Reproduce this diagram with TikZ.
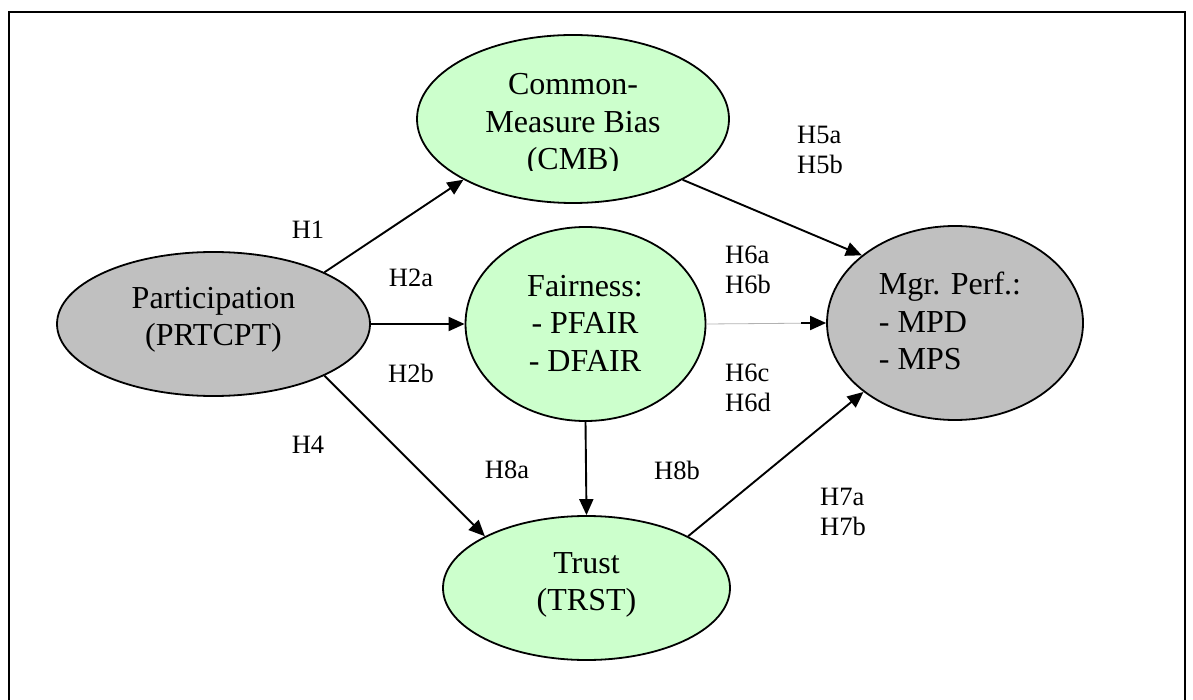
\documentclass[tikz,border=0pt]{standalone}
\usepackage{fontspec}
\setmainfont{Liberation Serif}
\usetikzlibrary{shapes.geometric,arrows.meta,calc}
\definecolor{factgreen}{HTML}{CCFFCC}
\definecolor{factgray}{HTML}{C0C0C0}
\begin{document}
\begin{tikzpicture}[x=1pt,y=-1pt,
  construct/.style={ellipse, draw=black, line width=1.8pt, inner sep=0pt},
  greenc/.style={construct, fill=factgreen},
  grayc/.style={construct, fill=factgray},
  ctext/.style={inner sep=0pt, align=center, font=\fontsize{32}{37.5}\selectfont},
  hyp/.style={inner sep=0pt, align=left, font=\fontsize{26.5}{30}\selectfont},
  link/.style={line width=1.9pt, -{Triangle[length=16pt,width=14pt]}},
]
\useasboundingbox (0,0) rectangle (1193,700);

% outer frame (its bottom edge lies below the page)
\draw[line width=2.2pt] (9,705) -- (9,12) -- (1185,12) -- (1185,705);

% constructs
\node[greenc, minimum width=312pt, minimum height=168pt] (cmb)   at (573,119)   {};
\node[grayc,  minimum width=313pt, minimum height=144pt] (prt)   at (213.5,324) {};
\node[greenc, minimum width=240pt, minimum height=194pt] (fair)  at (585.5,324) {};
\node[grayc,  minimum width=256pt, minimum height=194pt] (mgr)   at (955,323)   {};
\node[greenc, minimum width=287pt, minimum height=144pt] (trust) at (586.5,588) {};

% construct texts (the CMB text box cuts off its last line)
\begin{scope}
  \clip (410,30) rectangle (740,171);
  \node[ctext] (cmbtxt) at (573,125) {Common-\\Measure Bias\\(CMB)};
\end{scope}
\node[ctext] (prttxt)   at (213.5,320) {Participation\\(PRTCPT)};
\node[ctext] (fairtxt)  at (585,323)   {Fairness:\\- PFAIR\\- DFAIR};
\node[ctext, align=left] (mgrtxt) at (950,321) {Mgr. Perf.:\\- MPD\\- MPS};
\node[ctext] (trusttxt) at (586.5,585) {Trust\\(TRST)};

% hypothesised paths
\draw[link] (prt.25)    -- (cmb.209.6);
\draw[link] (prt.east)  -- (fair.west);
\draw[link] (prt.335)   -- (trust.153.7);
\draw[link] (cmb.331.4) -- (mgr.144.3);
\draw[line width=0.8pt, black!30] (fair.east) -- (mgr.west);
\draw[link] ($(mgr.west)+(-25,0)$) -- (mgr.west);
\draw[link] (fair.south) -- (trust.north);
\draw[link] (trust.27.5) -- (mgr.217.3);

% hypothesis labels
\node[hyp] (h1)  at (308,230) {H1};
\node[hyp] (h2a) at (411,278) {H2a};
\node[hyp] (h2b) at (411,373) {H2b};
\node[hyp] (h4)  at (308,445) {H4};
\node[hyp] (h8a) at (507,470) {H8a};
\node[hyp] (h8b) at (677,470) {H8b};
\node[hyp, anchor=west] (h5)   at (797,150) {H5a\\H5b};
\node[hyp, anchor=west] (h6ab) at (725,270) {H6a\\H6b};
\node[hyp, anchor=west] (h6cd) at (725,388) {H6c\\H6d};
\node[hyp, anchor=west] (h7)   at (820,512) {H7a\\H7b};
\end{tikzpicture}
\end{document}
